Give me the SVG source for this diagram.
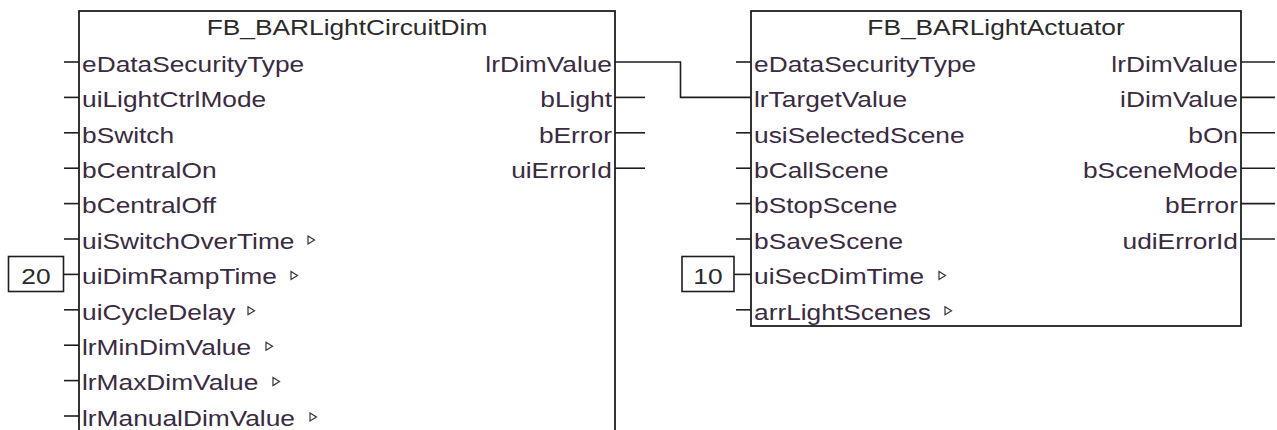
<svg xmlns="http://www.w3.org/2000/svg" xmlns:xlink="http://www.w3.org/1999/xlink" width="1277" height="430" viewBox="0 0 1277 430">
<style>
  .blk { fill: #ffffff; stroke: #1e1e1e; stroke-width: 1.8; }
  .pin { stroke: #1e1e1e; stroke-width: 1.6; fill: none; }
  .wire { stroke: #1e1e1e; stroke-width: 1.6; fill: none; }
  .lbl { font-family: "Liberation Sans", Arial, sans-serif; font-size: 22.5px; fill: #3a2a42; }
  .ttl { font-family: "Liberation Sans", Arial, sans-serif; font-size: 22.5px; fill: #2a2a2a; text-anchor: middle; }
  .out { text-anchor: end; }
  .cst { font-family: "Liberation Sans", Arial, sans-serif; font-size: 22.5px; fill: #2a2a2a; text-anchor: middle; }
  .cbox { fill: #ffffff; stroke: #1e1e1e; stroke-width: 1.6; }
</style>
<defs>
  <polygon id="tri" points="0,-4 6.5,0 0,4" fill="#ffffff" stroke="#333333" stroke-width="1.2"/>
</defs>
<rect width="1277" height="430" fill="#ffffff"/>

<g id="connectors">
  <polyline class="wire" points="615,62 680.5,62 680.5,97.4 751,97.4"/>
</g>

<g id="fb_circuit">
  <rect class="blk" x="79" y="11" width="536" height="440"/>
  <text class="ttl" transform="translate(347,35) scale(1.17,1)">FB_BARLightCircuitDim</text>
  <g class="pin">
    <line x1="64" y1="62" x2="79" y2="62"/>
    <line x1="64" y1="97.4" x2="79" y2="97.4"/>
    <line x1="64" y1="132.8" x2="79" y2="132.8"/>
    <line x1="64" y1="168.2" x2="79" y2="168.2"/>
    <line x1="64" y1="203.6" x2="79" y2="203.6"/>
    <line x1="64" y1="239" x2="79" y2="239"/>
    <line x1="64" y1="309.8" x2="79" y2="309.8"/>
    <line x1="64" y1="345.2" x2="79" y2="345.2"/>
    <line x1="64" y1="380.6" x2="79" y2="380.6"/>
    <line x1="64" y1="416" x2="79" y2="416"/>
    <line x1="615" y1="97.4" x2="645" y2="97.4"/>
    <line x1="615" y1="132.8" x2="645" y2="132.8"/>
    <line x1="615" y1="168.2" x2="645" y2="168.2"/>
  </g>
  <text class="lbl" transform="translate(82,71.8) scale(1.17,1)">eDataSecurityType</text>
  <text class="lbl" transform="translate(82,107.2) scale(1.17,1)">uiLightCtrlMode</text>
  <text class="lbl" transform="translate(82,142.6) scale(1.17,1)">bSwitch</text>
  <text class="lbl" transform="translate(82,178) scale(1.17,1)">bCentralOn</text>
  <text class="lbl" transform="translate(82,213.4) scale(1.17,1)">bCentralOff</text>
  <text class="lbl" transform="translate(82,248.8) scale(1.17,1)">uiSwitchOverTime</text>
  <text class="lbl" transform="translate(82,284.2) scale(1.17,1)">uiDimRampTime</text>
  <text class="lbl" transform="translate(82,319.6) scale(1.17,1)">uiCycleDelay</text>
  <text class="lbl" transform="translate(82,355) scale(1.17,1)">lrMinDimValue</text>
  <text class="lbl" transform="translate(82,390.4) scale(1.17,1)">lrMaxDimValue</text>
  <text class="lbl" transform="translate(82,425.8) scale(1.17,1)">lrManualDimValue</text>
  <use xlink:href="#tri" x="308" y="240"/>
  <use xlink:href="#tri" x="291" y="275.4"/>
  <use xlink:href="#tri" x="248" y="310.8"/>
  <use xlink:href="#tri" x="266" y="346.2"/>
  <use xlink:href="#tri" x="273" y="381.6"/>
  <use xlink:href="#tri" x="310" y="417"/>
  <text class="lbl out" transform="translate(612,71.8) scale(1.17,1)">lrDimValue</text>
  <text class="lbl out" transform="translate(612,107.2) scale(1.17,1)">bLight</text>
  <text class="lbl out" transform="translate(612,142.6) scale(1.17,1)">bError</text>
  <text class="lbl out" transform="translate(612,178) scale(1.17,1)">uiErrorId</text>
</g>

<g id="const_20">
  <rect class="cbox" x="8.5" y="256.5" width="55" height="35"/>
  <line class="pin" x1="63.5" y1="274.4" x2="79" y2="274.4"/>
  <text class="cst" transform="translate(36,284) scale(1.17,1)">20</text>
</g>

<g id="fb_actuator">
  <rect class="blk" x="751" y="11" width="490" height="315"/>
  <text class="ttl" transform="translate(996,35) scale(1.17,1)">FB_BARLightActuator</text>
  <g class="pin">
    <line x1="736" y1="62" x2="751" y2="62"/>
    <line x1="736" y1="132.8" x2="751" y2="132.8"/>
    <line x1="736" y1="168.2" x2="751" y2="168.2"/>
    <line x1="736" y1="203.6" x2="751" y2="203.6"/>
    <line x1="736" y1="239" x2="751" y2="239"/>
    <line x1="736" y1="309.8" x2="751" y2="309.8"/>
    <line x1="1241" y1="62" x2="1275" y2="62"/>
    <line x1="1241" y1="97.4" x2="1275" y2="97.4"/>
    <line x1="1241" y1="132.8" x2="1275" y2="132.8"/>
    <line x1="1241" y1="168.2" x2="1275" y2="168.2"/>
    <line x1="1241" y1="203.6" x2="1275" y2="203.6"/>
    <line x1="1241" y1="239" x2="1275" y2="239"/>
  </g>
  <text class="lbl" transform="translate(754,71.8) scale(1.17,1)">eDataSecurityType</text>
  <text class="lbl" transform="translate(754,107.2) scale(1.17,1)">lrTargetValue</text>
  <text class="lbl" transform="translate(754,142.6) scale(1.17,1)">usiSelectedScene</text>
  <text class="lbl" transform="translate(754,178) scale(1.17,1)">bCallScene</text>
  <text class="lbl" transform="translate(754,213.4) scale(1.17,1)">bStopScene</text>
  <text class="lbl" transform="translate(754,248.8) scale(1.17,1)">bSaveScene</text>
  <text class="lbl" transform="translate(754,284.2) scale(1.17,1)">uiSecDimTime</text>
  <text class="lbl" transform="translate(754,319.6) scale(1.17,1)">arrLightScenes</text>
  <use xlink:href="#tri" x="939" y="275.4"/>
  <use xlink:href="#tri" x="945" y="310.8"/>
  <text class="lbl out" transform="translate(1238,71.8) scale(1.17,1)">lrDimValue</text>
  <text class="lbl out" transform="translate(1238,107.2) scale(1.17,1)">iDimValue</text>
  <text class="lbl out" transform="translate(1238,142.6) scale(1.17,1)">bOn</text>
  <text class="lbl out" transform="translate(1238,178) scale(1.17,1)">bSceneMode</text>
  <text class="lbl out" transform="translate(1238,213.4) scale(1.17,1)">bError</text>
  <text class="lbl out" transform="translate(1238,248.8) scale(1.17,1)">udiErrorId</text>
</g>

<g id="const_10">
  <rect class="cbox" x="682" y="256.5" width="52" height="35"/>
  <line class="pin" x1="734" y1="274.4" x2="751" y2="274.4"/>
  <text class="cst" transform="translate(708,284) scale(1.17,1)">10</text>
</g>
</svg>
